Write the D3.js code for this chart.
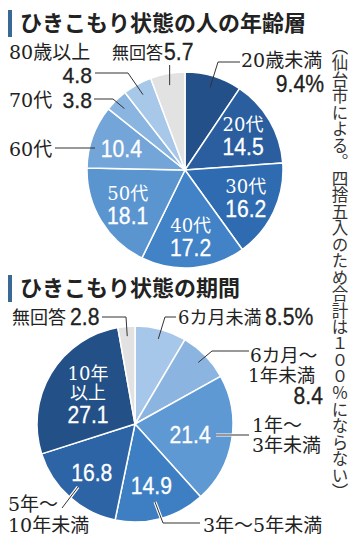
<!DOCTYPE html>
<html><head><meta charset="utf-8">
<script src="https://cdn.jsdelivr.net/npm/d3@7"></script>
<style>body{margin:0;background:#fff}</style>
</head><body>
<svg id="c" width="360" height="543"></svg>
<script>
// ---- data ----
const ageCats = ["20歳未満","20代","30代","40代","50代","60代","70代","80歳以上","無回答"];
const ageVals = [9.4,14.5,16.2,17.2,18.1,10.4,3.8,4.8,5.7];
const ageColors = ["#245089","#2a5e9f","#2f6bb0","#4282c6","#5b95d0","#73a5d9","#8ab5e0","#a8c8ea","#e2e2e2"];
const durCats = ["6カ月未満","6カ月～1年未満","1年～3年未満","3年～5年未満","5年～10年未満","10年以上","無回答"];
const durVals = [8.5,8.4,21.4,14.9,16.8,27.1,2.8];
const durColors = ["#a6c7ea","#8bb5e0","#5f99d3","#3e7fc3","#2d64a6","#235086","#e2e2e2"];
const title1 = "ひきこもり状態の人の年齢層";
const title2 = "ひきこもり状態の期間";
const note = "（仙台市による。四捨五入のため合計は１００％にならない）";

// ---- helpers ----
const svg = d3.select("#c");
const SERIF = "'DejaVu Serif','Noto Sans CJK JP',serif";
const SANS = "'Liberation Sans',Arial,sans-serif";
const CJK = "'Noto Sans CJK JP',sans-serif";
const DARK = "#222";

function fmt(v, i){ return i === 0 ? v.toFixed(1) + "%" : v.toFixed(1); }

function num(x, y, t, anchor, fill, size){
  const s = size || 23;
  svg.append("text").attr("transform", `translate(${x},${y}) scale(${(21.16 / s).toFixed(3)},1)`)
    .attr("text-anchor", anchor).attr("font-family", SANS).attr("font-size", s)
    .attr("fill", fill).attr("stroke", fill).attr("stroke-width", 0.3).text(t);
}
// label: lines = array of strings, stacked with given line height
function lbl(x, y, lines, anchor, fill, size, lh){
  if (!Array.isArray(lines)) lines = [lines];
  const t = svg.append("text").attr("text-anchor", anchor)
    .attr("font-family", SERIF).attr("font-size", size || 19).attr("fill", fill);
  lines.forEach((s, k) => {
    t.append("tspan").attr("x", Array.isArray(x) ? x[k] : x).attr("y", y + k * (lh || 20)).text(s);
  });
}
function leader(pts, halo){
  const line = d3.line();
  if (halo) svg.append("path").attr("d", line(pts)).attr("fill","none").attr("stroke","#fff").attr("stroke-width",3.2);
  svg.append("path").attr("d", line(pts)).attr("fill","none").attr("stroke","#333").attr("stroke-width",1);
}
function title(y, t){
  svg.append("rect").attr("x", 8).attr("y", y - 21).attr("width", 4).attr("height", 27).attr("fill", "#3b6995");
  svg.append("text").attr("x", 20).attr("y", y).attr("font-family", CJK).attr("font-weight", 700)
    .attr("font-size", 22).attr("fill", DARK).text(t);
}

function drawPie(vals, colors, cx, cy, r){
  const pie = d3.pie().sort(null).value(d => d);
  const arcs = pie(vals);
  const arc = d3.arc().innerRadius(0).outerRadius(r);
  const g = svg.append("g").attr("transform", `translate(${cx},${cy})`);
  g.selectAll("path").data(arcs).join("path")
    .attr("d", arc).attr("fill", (d,i) => colors[i])
    .attr("stroke", "#fff").attr("stroke-width", 1.5).attr("stroke-linejoin","round");
  const at = (i, k) => {
    const a = (arcs[i].startAngle + arcs[i].endAngle) / 2;
    return [cx + Math.sin(a) * r * k, cy - Math.cos(a) * r * k];
  };
  return at;
}

// ---- titles ----
title(31, title1);
title(296, title2);

// ---- age pie ----
{
  const at = drawPie(ageVals, ageColors, 185, 170, 98);
  [1,2,3,4].forEach(i => {
    const [x, y] = at(i, 0.685);
    lbl(x, y - 5, ageCats[i], "middle", "#fff", 18);
    num(x, y + 19, fmt(ageVals[i], i), "middle", "#fff");
  });
  // 20歳未満
  lbl(241, 67, ageCats[0], "start", DARK);
  num(324, 92, fmt(ageVals[0], 0), "end", DARK);
  leader([[240,62],[218,62], at(0, 0.88)]);
  // 無回答
  lbl(112, 59, ageCats[8], "start", DARK, 17);
  num(164, 60, fmt(ageVals[8], 8), "start", DARK);
  const p8 = at(8, 0.88);
  leader([[p8[0], 65], p8]);
  // 80歳以上
  lbl(9, 58.5, ageCats[7], "start", DARK);
  num(92, 83, fmt(ageVals[7], 7), "end", DARK, 22);
  leader([[95,73],[128,73], at(7, 0.88)]);
  // 70代
  lbl(9, 107, ageCats[6], "start", DARK);
  num(92, 108, fmt(ageVals[6], 6), "end", DARK, 22);
  leader([[94,99],[113,99], at(6, 0.88)]);
  // 60代
  lbl(9, 156, ageCats[5], "start", DARK);
  const p5 = at(5, 0.69);
  num(p5[0], p5[1] + 10, fmt(ageVals[5], 5), "middle", "#fff");
  leader([[55,148],[95,148]]);
}

// ---- duration pie ----
{
  const at = drawPie(durVals, durColors, 135, 424, 98);
  // 6カ月未満
  lbl(178, 324, durCats[0], "start", DARK, 18);
  num(265, 325, fmt(durVals[0], 0), "start", DARK);
  leader([[176,317],[165,317], at(0, 0.9)]);
  // 6カ月～1年未満
  lbl([250, 248], 362, ["6カ月～", "1年未満"], "start", DARK, 18.5, 19.5);
  num(323, 404, fmt(durVals[1], 1), "end", DARK);
  leader([[249,351],[212,351], at(1, 0.9)]);
  // 1年～3年未満
  const p2 = at(2, 0.57);
  num(p2[0], p2[1] + 10, fmt(durVals[2], 2), "middle", "#fff");
  lbl(252, 432, ["1年～", "3年未満"], "start", DARK, 19, 20);
  leader([[216,435],[249,435]], true);
  // 3年～5年未満
  const p3 = at(3, 0.64);
  num(p3[0], p3[1] + 9, fmt(durVals[3], 3), "middle", "#fff");
  lbl(203, 532, durCats[3], "start", DARK);
  leader([[155,502],[163,523],[200,523]], true);
  // 5年～10年未満
  const p4 = at(4, 0.66);
  num(p4[0], p4[1] + 9, fmt(durVals[4], 4), "middle", "#fff");
  lbl(8, 511, ["5年～", "10年未満"], "start", DARK, 19, 21);
  leader([[78,487],[62,508]], true);
  // 10年以上
  const p5 = at(5, 0.62);
  lbl(p5[0] + 5, p5[1] - 13, ["10年", "以上"], "middle", "#fff", 18, 19);
  num(p5[0] + 5, p5[1] + 30, fmt(durVals[5], 5), "middle", "#fff");
  // 無回答
  lbl(12, 324, durCats[6], "start", DARK, 18);
  num(70, 325, fmt(durVals[6], 6), "start", DARK);
  leader([[102,317],[126,317], at(6, 0.9)]);
}

// ---- vertical note ----
svg.append("text").attr("x", 340).attr("y", 38)
  .style("writing-mode", "vertical-rl")
  .attr("font-family", CJK).attr("font-size", 16.5).attr("fill", "#333").text(note);
</script>
</body></html>
